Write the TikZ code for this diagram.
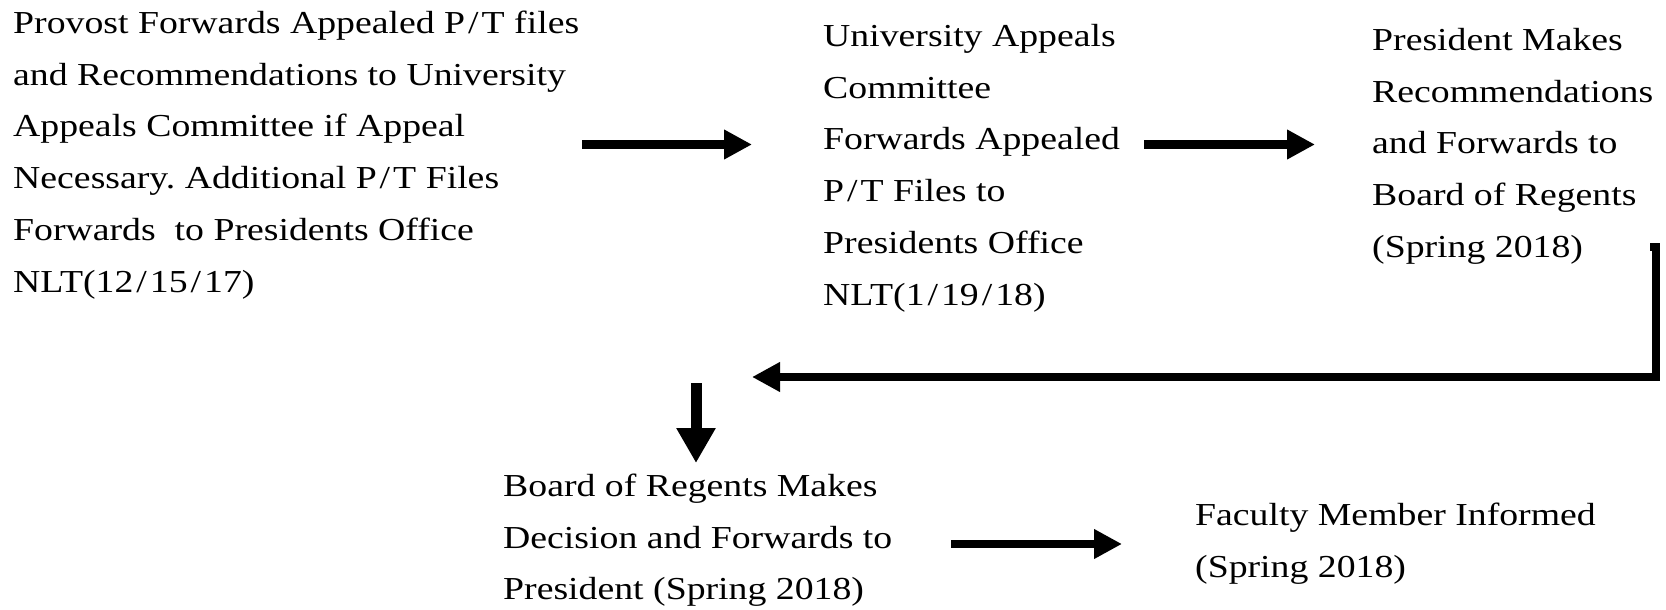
\documentclass[tikz,border=0pt]{standalone}
\usepackage{fontspec}
\setmainfont{Liberation Serif}[FakeStretch=1.18]
\usetikzlibrary{arrows.meta}
\frenchspacing
\tikzset{
  txt/.style={anchor=north west, align=left, inner sep=0pt, font=\fontsize{32}{51.8}\selectfont},
  fatarrow/.style={line width=8.5pt, -{Triangle[length=28pt,width=28pt]}},
  downarrow/.style={line width=11pt, -{Triangle[length=35pt,width=37pt]}},
}
\newcommand{\fs}{\rule{0pt}{30pt}}
\newcommand{\slsh}{\kern3pt/\kern3pt}
\begin{document}
\begin{tikzpicture}[x=1pt,y=-1pt]
\useasboundingbox (0,0) rectangle (1666,610);
\node[txt] (n1) at (13,3) {\fs Provost Forwards Appealed P\slsh T files\\and Recommendations to University\\Appeals Committee if Appeal\\Necessary. Additional P\slsh T Files\\Forwards\ \ to Presidents Office\\NLT(12\slsh 15\slsh 17)};
\node[txt] (n2) at (823,16) {\fs University Appeals\\Committee\\Forwards Appealed\\P\slsh T Files to\\Presidents Office\\NLT(1\slsh 19\slsh 18)};
\node[txt] (n3) at (1372,20) {\fs President Makes\\Recommendations\\and Forwards to\\Board of Regents\\(Spring 2018)};
\node[txt] (n4) at (503,466) {\fs Board of Regents Makes\\Decision and Forwards to\\President (Spring 2018)};
\node[txt] (n5) at (1195,495) {\fs Faculty Member Informed\\(Spring 2018)};
\coordinate (a1s) at (582,144.5);
\coordinate (a1e) at (752,144.5);
\coordinate (a2s) at (1144,144.5);
\coordinate (a2e) at (1315,144.5);
\coordinate (b0) at (1650,247);
\coordinate (b1) at (1656,247);
\coordinate (b2) at (1656,377);
\coordinate (b3) at (752,377);
\coordinate (d1) at (696,383);
\coordinate (d2) at (696,463);
\coordinate (a3s) at (951,544);
\coordinate (a3e) at (1122,544);
\draw[fatarrow] (a1s) -- (a1e);
\draw[fatarrow] (a2s) -- (a2e);
\draw[fatarrow, line join=miter] (b0) -- (b1) -- (b2) -- (b3);
\draw[downarrow] (d1) -- (d2);
\draw[fatarrow] (a3s) -- (a3e);
\end{tikzpicture}
\end{document}
